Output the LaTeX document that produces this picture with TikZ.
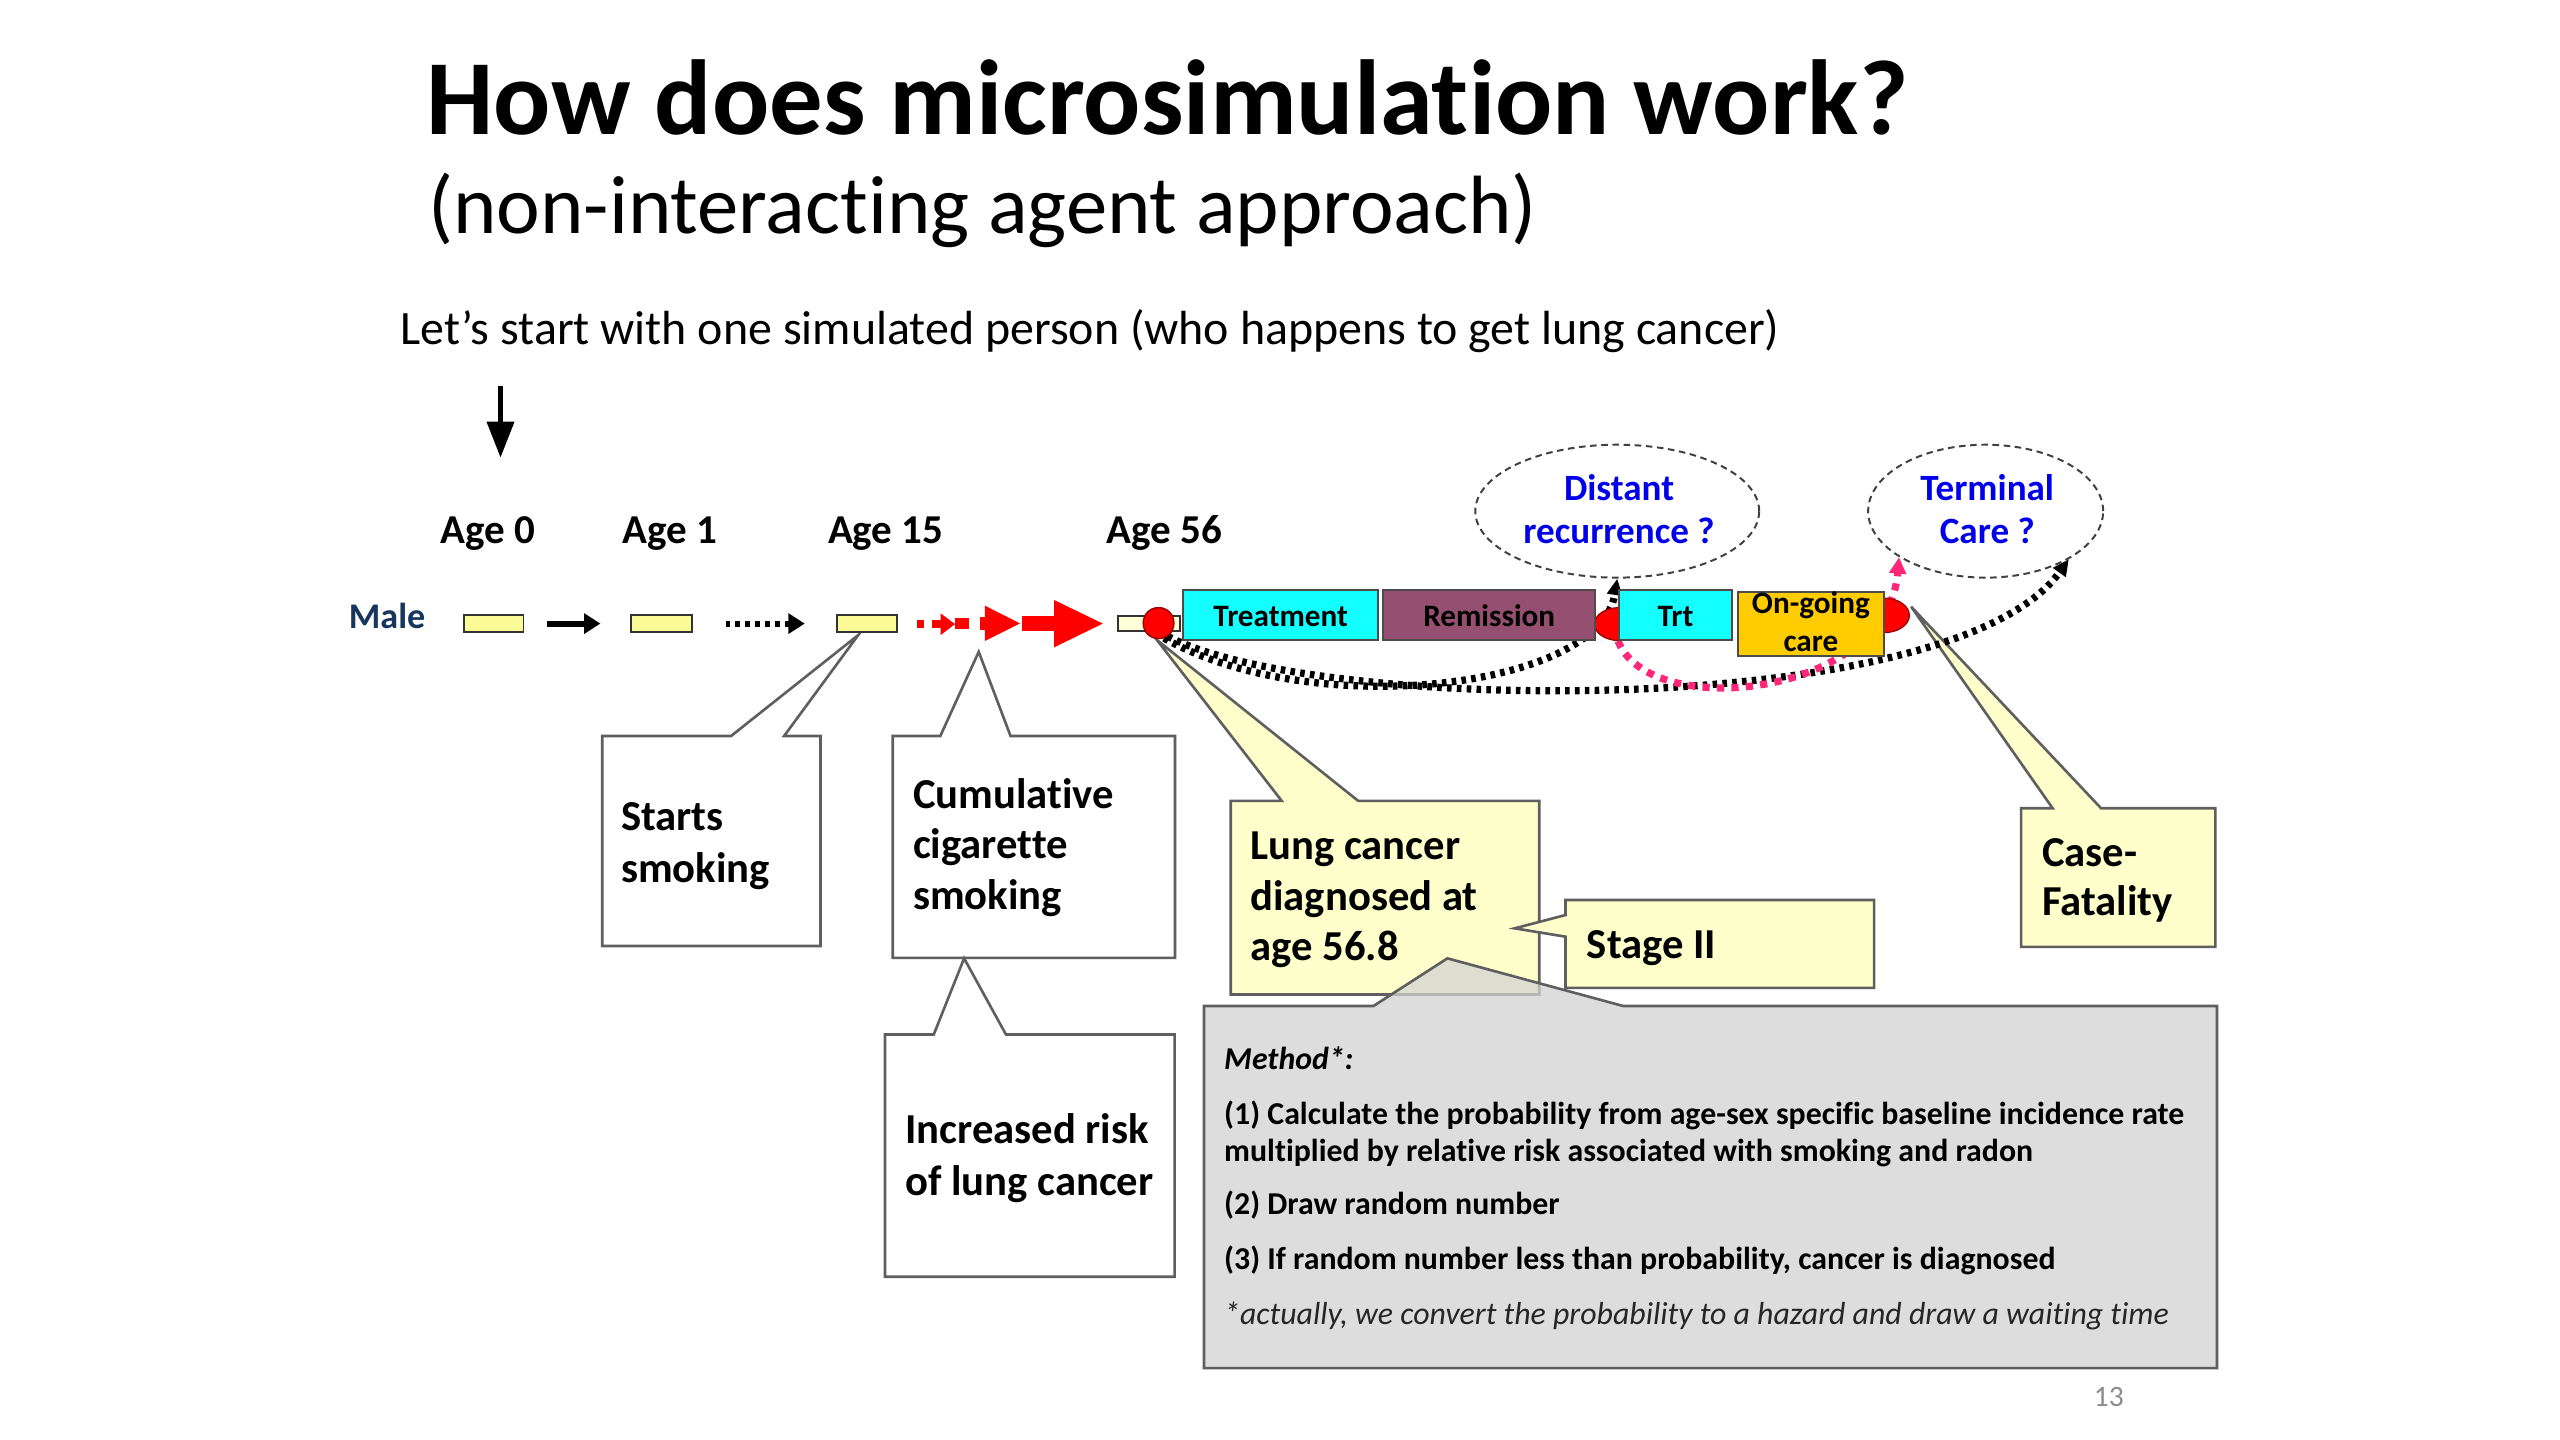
\documentclass[tikz,border=0pt]{standalone}
\usepackage{fontspec}
\setmainfont{Carlito}[Ligatures=NoCommon]
\usetikzlibrary{arrows.meta,fit,shapes.geometric}
\definecolor{boxyellow}{RGB}{255,255,204}
\definecolor{agebar}{RGB}{250,250,150}
\definecolor{agebarpale}{RGB}{255,255,215}
\definecolor{trtcyan}{RGB}{20,255,255}
\definecolor{remission}{RGB}{149,79,112}
\definecolor{ongoing}{RGB}{255,204,0}
\definecolor{malenavy}{RGB}{23,54,93}
\definecolor{qblue}{RGB}{0,0,235}
\definecolor{pinkdot}{RGB}{255,40,120}
\definecolor{methodgray}{RGB}{210,210,210}
\definecolor{bordergray}{RGB}{95,95,95}
\definecolor{redfill}{RGB}{255,0,0}
\newcommand{\fsz}[1]{\fontsize{#1}{#1}\selectfont}
\begin{document}
\begin{tikzpicture}[x=0.5pt,y=-0.5pt,
  txt/.style={anchor=base west,inner sep=0pt,outer sep=0pt},
  ctxt/.style={anchor=base,inner sep=0pt,outer sep=0pt},
  agebox/.style={draw=black!80,line width=0.6pt,fill=agebar,inner sep=0pt},
  statebox/.style={draw=black!70,line width=0.6pt,inner sep=0pt},
  callout/.style={draw=bordergray,line width=0.8pt,line join=miter},
  dotcurve/.style={black,line width=2.2pt,dash pattern=on 1.4pt off 1.6pt,-{Triangle[length=5pt,width=4.5pt]}},
  pinkcurve/.style={pinkdot,line width=2.2pt,dash pattern=on 2.2pt off 2.2pt,-{Triangle[length=5pt,width=5pt]}},
  bubble/.style={ellipse,draw=black!75,line width=0.6pt,dash pattern=on 2pt off 1.4pt,inner sep=0pt},
  redmark/.style={ellipse,fill=redfill,draw=red!60!black,line width=0.4pt,inner sep=0pt},
  calltext/.style={txt,font=\fsz{13}\bfseries},
  agetext/.style={txt,font=\fsz{12.5}\bfseries},
  labtext/.style={ctxt,font=\fsz{9.5}\bfseries},
  qtext/.style={ctxt,font=\fsz{11.3}\bfseries,text=qblue},
  mtext/.style={txt,font=\fsz{9.7}\bfseries}]
\path[use as bounding box,fill=white] (0,0) rectangle (1560,877.5);

% titles
\node[txt] (title) at (260,82) {\fsz{32.5}\bfseries How does microsimulation work?};
\node[txt] (subtitle) at (261,142) {\fsz{25.2}(non-interacting agent approach)};
\node[txt] (intro) at (244,210) {\fsz{14.6}Let’s start with one simulated person (who happens to get lung cancer)};
\coordinate (dtop) at (305,235);
\coordinate (dbot) at (305,279);
\draw[line width=1.8pt,-{Triangle[length=11pt,width=8pt]}] (dtop) -- (dbot);

% age labels
\node[agetext] (age0) at (268.5,331) {Age 0};
\node[agetext] (age1) at (379.5,331) {Age 1};
\node[agetext] (age15) at (504.6,331) {Age 15};
\node[agetext] (age56) at (674.5,331) {Age 56};
\node[txt,font=\fsz{11}\bfseries,text=malenavy] (male) at (212.6,383) {Male};

% callouts
\filldraw[callout,fill=white] (367,448.5) -- (445.5,448.5) -- (523,387) -- (477.8,448.5) -- (500,448.5) -- (500,576.5) -- (367,576.5) -- cycle;
\filldraw[callout,fill=white] (544,448.5) -- (573,448.5) -- (596.4,397.2) -- (615.8,448.5) -- (716,448.5) -- (716,583.7) -- (544,583.7) -- cycle;
\filldraw[callout,fill=white] (539.3,630.4) -- (569,630.4) -- (587.5,584) -- (613,630.4) -- (715.8,630.4) -- (715.8,778) -- (539.3,778) -- cycle;
\filldraw[callout,fill=boxyellow] (750,488) -- (781,488) -- (705,390) -- (827.6,488) -- (938,488) -- (938,606) -- (750,606) -- cycle;
\filldraw[callout,fill=boxyellow] (954,548.4) -- (1142,548.4) -- (1142,602) -- (954,602) -- (954,570.8) -- (923,565.7) -- (954,557.6) -- cycle;
\filldraw[callout,fill=boxyellow] (1231.6,492.5) -- (1250.8,492.5) -- (1164.6,369.7) -- (1280.3,492.5) -- (1350,492.5) -- (1350,577) -- (1231.6,577) -- cycle;
\filldraw[callout,fill=methodgray,fill opacity=0.75] (733.7,613) -- (837,613) -- (882,584) -- (989,613) -- (1351,613) -- (1351,833.7) -- (733.7,833.7) -- cycle;

\node[calltext] (st1) at (378.5,506) {Starts};
\node[calltext] (st2) at (378.5,537.6) {smoking};
\node[calltext] (cu1) at (556.4,492.6) {Cumulative};
\node[calltext] (cu2) at (556.4,523.4) {cigarette};
\node[calltext] (cu3) at (556.4,554.2) {smoking};
\node[calltext] (ir1) at (551.6,696.6) {Increased risk};
\node[calltext] (ir2) at (551.6,728.6) {of lung cancer};
\node[calltext] (lc1) at (762,524) {Lung cancer};
\node[calltext] (lc2) at (762,554.7) {diagnosed at};
\node[calltext] (lc3) at (762,585.5) {age 56.8};
\node[calltext] (sg) at (967,584) {Stage II};
\node[calltext] (cf1) at (1244.5,528) {Case-};
\node[calltext] (cf2) at (1244.5,557.6) {Fatality};

\node[mtext,font=\fsz{9.7}\bfseries\itshape] (m0) at (746,651.6) {Method*:};
\node[mtext] (m1) at (746,685) {(1) Calculate the probability from age-sex specific baseline incidence rate};
\node[mtext] (m2) at (746,708) {multiplied by relative risk associated with smoking and radon};
\node[mtext] (m3) at (746,740) {(2) Draw random number};
\node[mtext] (m4) at (746,773.6) {(3) If random number less than probability, cancer is diagnosed};
\node[txt,font=\fsz{9.7}\itshape,text=black!85] (m5) at (746,807.4) {*actually, we convert the probability to a hazard and draw a waiting time};
\node[txt,font=\fsz{9},text=black!45] (page) at (1276,857) {13};

% bubbles
\node[bubble,minimum width=86.5pt,minimum height=40.5pt] (distant) at (985.5,311.5) {};
\node[qtext] (d1) at (986.6,304.7) {Distant};
\node[qtext] (d2) at (986.6,331) {recurrence ?};
\node[bubble,minimum width=71.6pt,minimum height=40.5pt] (terminal) at (1210,311.5) {};
\node[qtext] (t1) at (1211,304.7) {Terminal};
\node[qtext] (t2) at (1211,331) {Care ?};

% markers (nodes used by the curves)
\node[redmark,minimum width=9.4pt,minimum height=9.4pt] (c56) at (706,379.7) {};
\node[statebox,fill=trtcyan,fit={(986.6,359.5) (1055.3,390)}] (trt) {};

% curves
\draw[dotcurve] (c56.-70) .. controls (800,440) and (975,420) .. (distant.south);
\draw[dotcurve] (c56.-55) .. controls (800,435) and (1190,440) .. (terminal.-30);
\draw[pinkcurve] (trt.south west) .. controls (1005,440) and (1150,425) .. (terminal.-152);

% red semicircle markers
\node[redmark,minimum width=15pt,minimum height=10pt] (rc1) at (986.6,380.3) {};
\node[redmark,minimum width=15.5pt,minimum height=10.5pt] (rc2) at (1148,375) {};

% state boxes
\node[statebox,fill=trtcyan,fit={(720.7,359.5) (840,390)}] (treat) {};
\node[statebox,fill=remission,fit={(843,359.5) (972,390)}] (remis) {};
\node[statebox,fill=trtcyan,fit={(986.6,359.5) (1055.3,390)}] (trt2) {};
\node[statebox,fill=ongoing,fit={(1059,360.5) (1148,399.8)}] (ongo) {};
\node[labtext] (l1) at (780.4,382) {Treatment};
\node[labtext] (l2) at (907.5,382) {Remission};
\node[labtext] (l3) at (1021,382) {Trt};
\node[labtext] (l4) at (1103.5,373.8) {On-going};
\node[labtext] (l5) at (1103.5,397) {care};

% age bars and arrows
\node[agebox,fit={(282.5,375) (319,385)}] (bar0) {};
\node[agebox,fit={(384.5,375) (421.5,385)}] (bar1) {};
\node[agebox,fit={(510,375) (546.6,385)}] (bar15) {};
\node[agebox,fill=agebarpale,fit={(681.4,375.2) (719,384.5)}] (bar56) {};
\node[redmark,minimum width=9.4pt,minimum height=9.4pt] (c56b) at (706,379.7) {};
\draw[line width=1.8pt,shorten <=7pt,shorten >=9pt,-{Triangle[length=5pt,width=6pt]}] (bar0.east) -- (bar1.west);
\draw[line width=1.8pt,dash pattern=on 1.5pt off 1.5pt,shorten <=10pt,shorten >=9.5pt,-{Triangle[length=5pt,width=6pt]}] (bar1.east) -- (bar15.west);

% red growing arrows
\fill[redfill] (558.6,377.8) rectangle (563.1,382.5);
\fill[redfill] (568.1,377.8) rectangle (573.2,382.5);
\fill[redfill] (573.2,373.8) -- (582,380.3) -- (573.2,387) -- cycle;
\fill[redfill] (582,376.4) rectangle (590.5,383.3);
\fill[redfill] (597.2,375.8) rectangle (600.9,383.9);
\fill[redfill] (600.2,369.1) -- (621.6,379.9) -- (600.2,390.6) -- cycle;
\fill[redfill] (622.6,375.4) rectangle (642.3,384.5);
\fill[redfill] (642.3,365.6) -- (672,380) -- (642.3,394.5) -- cycle;
\end{tikzpicture}
\end{document}
